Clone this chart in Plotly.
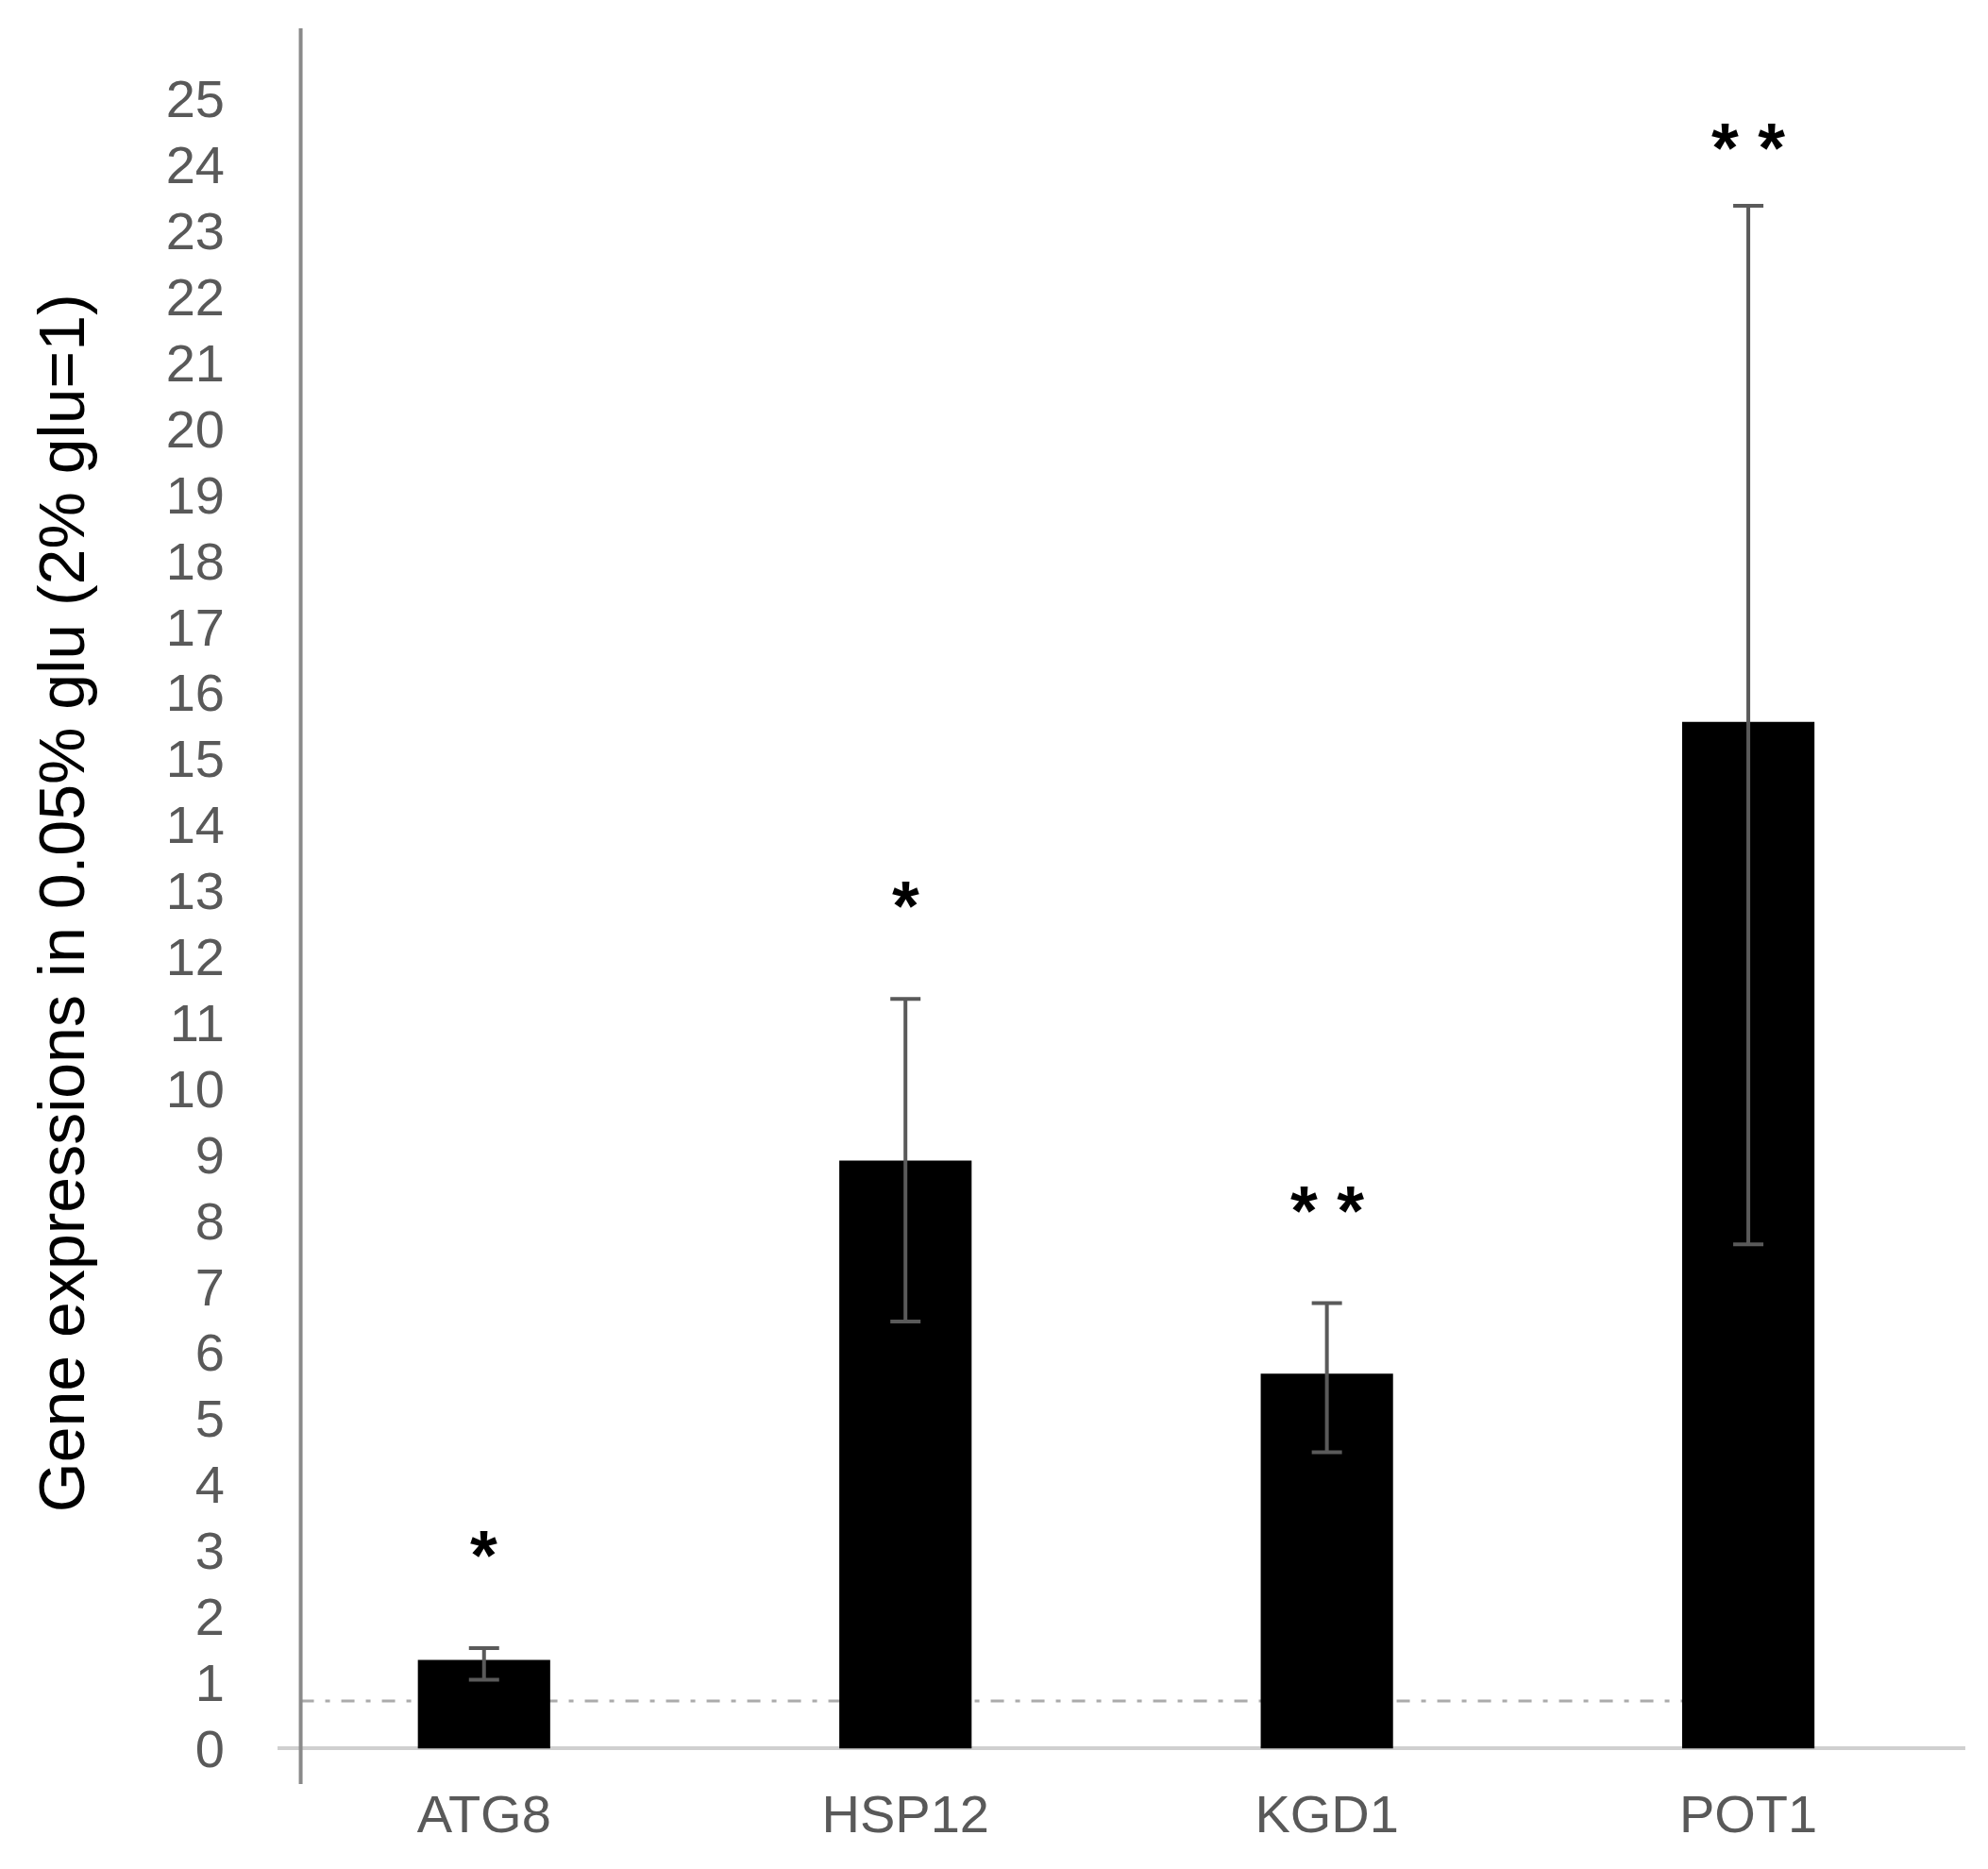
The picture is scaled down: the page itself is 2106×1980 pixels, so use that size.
import plotly.graph_objects as go

genes = ["ATG8", "HSP12", "KGD1", "POT1"]
means = [1.34, 8.91, 5.68, 15.56]
err_plus = [0.18, 2.45, 1.07, 7.82]
err_minus = [0.30, 2.44, 1.19, 7.92]
sig_labels = ["*", "*", "* *", "* *"]
y_ticks = list(range(0, 26))
reference_level = 0.72

Y_MIN, Y_MAX = -0.54, 26.07
X_MIN, X_MAX = -0.49, 3.515
AXIS_X = -0.435
BAR_W = 0.314

FONT = "Liberation Sans, Arial, sans-serif"

fig = go.Figure()
fig.add_trace(go.Bar(
    x=list(range(len(genes))), y=means, width=BAR_W,
    marker=dict(color="black", line=dict(width=0)),
    error_y=dict(type="data", symmetric=False, array=err_plus, arrayminus=err_minus,
                 color="#5a5a5a", thickness=4, width=16),
    showlegend=False,
))

# reference dash-dot line (behind bars)
fig.add_shape(type="line", xref="x", yref="y", x0=AXIS_X, x1=len(genes) - 1 - BAR_W / 2,
              y0=reference_level, y1=reference_level,
              line=dict(color="#ababab", width=3, dash="14px,12px,5px,12px"), layer="below")

# y axis line
fig.add_shape(type="line", xref="x", yref="paper", x0=AXIS_X, x1=AXIS_X, y0=0, y1=1,
              line=dict(color="#8a8a8a", width=4), layer="above")

for i, (m, p, s) in enumerate(zip(means, err_plus, sig_labels)):
    fig.add_annotation(x=i, y=min(m + p + 1.55, Y_MAX - 1.67), xref="x", yref="y",
                       text="<b>" + s + "</b>", showarrow=False, yshift=-10,
                       font=dict(family=FONT, size=74, color="black"))

fig.add_annotation(text="Gene expressions in 0.05% glu (2% glu=1)", xref="paper", yref="paper",
                   x=-0.128, y=0.5016, xanchor="center", yanchor="middle", textangle=-90,
                   showarrow=False, font=dict(family=FONT, size=68, color="black"))

fig.update_layout(
    width=2106, height=1980,
    margin=dict(l=286, r=32, t=22, b=98),
    paper_bgcolor="white", plot_bgcolor="white",
    font=dict(family=FONT),
    xaxis=dict(range=[X_MIN, X_MAX], tickmode="array", tickvals=list(range(len(genes))),
               ticktext=genes, showgrid=False, zeroline=False, showline=False, ticks="",
               ticklabelstandoff=-6, tickfont=dict(size=56, color="#595959")),
    yaxis=dict(range=[Y_MIN, Y_MAX], tickmode="array", tickvals=y_ticks,
               ticktext=[str(t) for t in y_ticks], showgrid=False, showline=False,
               zeroline=True, zerolinecolor="#d0d0d0", zerolinewidth=4, ticks="",
               ticklabelstandoff=55, tickfont=dict(size=56, color="#595959")),
)

fig.write_html("out.html")
